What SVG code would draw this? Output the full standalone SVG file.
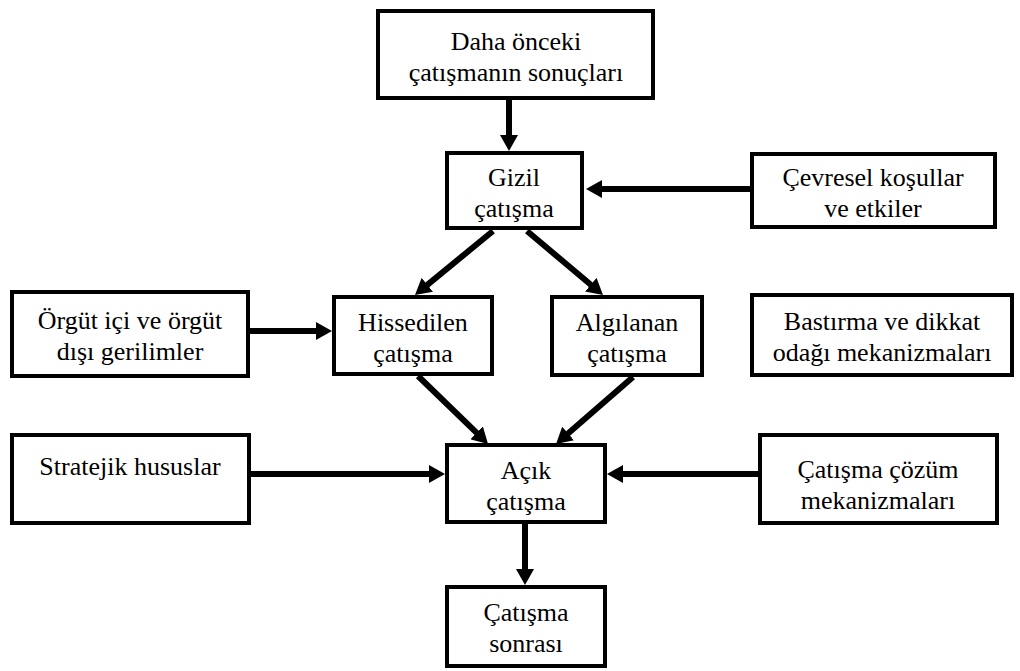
<svg xmlns="http://www.w3.org/2000/svg" width="1020" height="671" viewBox="0 0 1020 671">
<style>
.box{fill:#fff;stroke:#000;stroke-width:4}
text{font-family:'Liberation Serif','Times New Roman','DejaVu Serif',serif;font-size:26px;fill:#000;text-anchor:middle}
.c{stroke:#000;stroke-width:6;fill:none;marker-end:url(#ah)}
</style>
<defs>
<marker id="ah" markerUnits="userSpaceOnUse" viewBox="0 0 16 18" markerWidth="16" markerHeight="18" refX="2" refY="9" orient="auto">
<path d="M0,0 L16,9 L0,18 Z" fill="#000"/>
</marker>
</defs>
<rect width="1020" height="671" fill="#fff"/>
<g id="connectors">
<line class="c" x1="509" y1="100" x2="509" y2="137"/>
<line class="c" x1="750" y1="189" x2="600" y2="189"/>
<line class="c" x1="493" y1="231" x2="425.8" y2="286.1"/>
<line class="c" x1="527" y1="231" x2="592.3" y2="286"/>
<line class="c" x1="250" y1="331" x2="318" y2="331"/>
<line class="c" x1="418" y1="376" x2="478" y2="434.2"/>
<line class="c" x1="633" y1="377" x2="566.6" y2="434.8"/>
<line class="c" x1="251" y1="474" x2="431" y2="474"/>
<line class="c" x1="758" y1="474" x2="621" y2="474"/>
<line class="c" x1="525" y1="524" x2="525" y2="571"/>
</g>
<g font-family="Liberation Serif, serif">
<g id="n1"><rect class="box" x="378" y="11" width="275" height="87"/><text x="516" y="50">Daha önceki</text><text x="516" y="81">çatışmanın sonuçları</text></g>
<g id="gizil"><rect class="box" x="447" y="153" width="135" height="75"/><text x="514" y="186">Gizil</text><text x="514" y="217">çatışma</text></g>
<g id="cevresel"><rect class="box" x="752" y="154" width="243" height="73"/><text x="873" y="186">Çevresel koşullar</text><text x="873" y="217">ve etkiler</text></g>
<g id="orgut"><rect class="box" x="12" y="292" width="236" height="84"/><text x="130" y="329">Örgüt içi ve örgüt</text><text x="130" y="360">dışı gerilimler</text></g>
<g id="hissedilen"><rect class="box" x="334" y="297" width="158" height="77"/><text x="413" y="331">Hissedilen</text><text x="413" y="362">çatışma</text></g>
<g id="algilanan"><rect class="box" x="552" y="297" width="150" height="78"/><text x="627" y="331">Algılanan</text><text x="627" y="362">çatışma</text></g>
<g id="bastirma"><rect class="box" x="752" y="295" width="260" height="80"/><text x="882" y="330">Bastırma ve dikkat</text><text x="882" y="361">odağı mekanizmaları</text></g>
<g id="stratejik"><rect class="box" x="12" y="435" width="237" height="88"/><text x="130" y="475">Stratejik hususlar</text></g>
<g id="acik"><rect class="box" x="447" y="445" width="158" height="77"/><text x="526" y="479">Açık</text><text x="526" y="510">çatışma</text></g>
<g id="cozum"><rect class="box" x="760" y="435" width="237" height="88"/><text x="878" y="478">Çatışma çözüm</text><text x="878" y="509">mekanizmaları</text></g>
<g id="sonrasi"><rect class="box" x="447" y="587" width="158" height="79"/><text x="526" y="621">Çatışma</text><text x="526" y="652">sonrası</text></g>
</g>
</svg>
